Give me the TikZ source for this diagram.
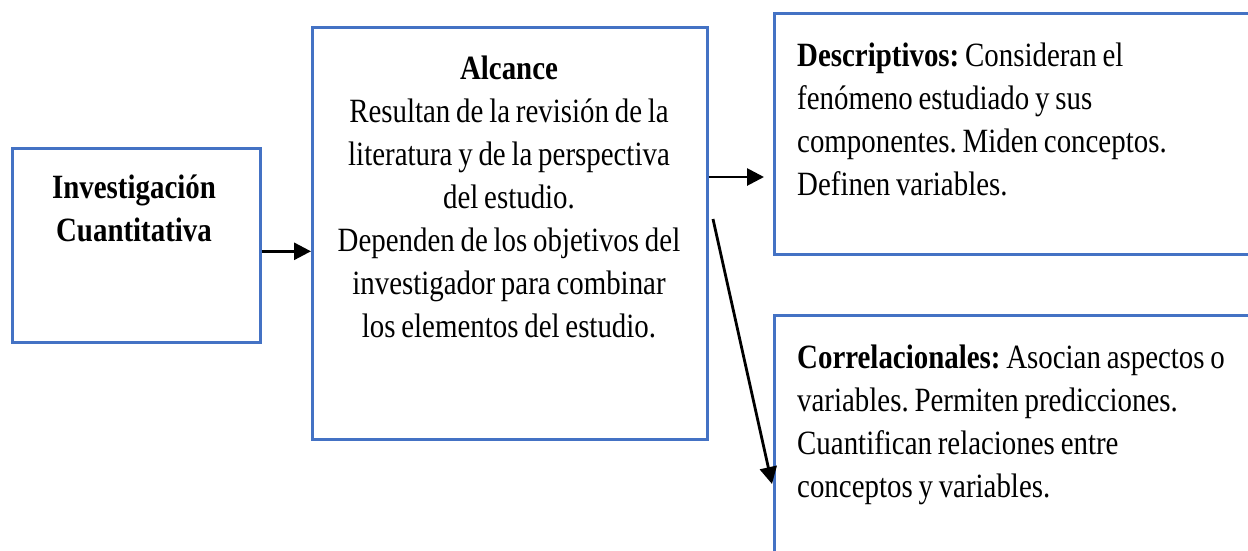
\documentclass[tikz,border=0pt]{standalone}
\usepackage{fontspec}
\setmainfont{Liberation Serif}[FakeStretch=0.85,WordSpace=0.8]
\frenchspacing
\usetikzlibrary{arrows.meta,calc}
\definecolor{boxblue}{HTML}{4472C4}
\tikzset{
  box/.style={draw=boxblue, line width=2.6pt, inner sep=0pt, anchor=north west, fill=white},
  txt/.style={inner sep=0pt, font=\fontsize{34}{43}\selectfont},
  arr/.style={line width=2.8pt, -{Triangle[length=17pt,width=17pt]}}
}
\begin{document}
\begin{tikzpicture}[x=1pt,y=-1pt]
\clip (0,0) rectangle (1248,550);
\fill[white] (0,0) rectangle (1248,550);
\node[box, minimum width=248pt, minimum height=194pt] (b1) at (11,147) {};
\node[box, minimum width=395pt, minimum height=412pt] (b2) at (311,26) {};
\node[box, minimum width=500pt, minimum height=241pt] (b3) at (773,12) {};
\node[box, minimum width=500pt, minimum height=260pt] (b4) at (773,314) {};

\node[txt, align=center, anchor=north] (t1) at (134,175) {\textbf{Investigación}\\\textbf{Cuantitativa}};
\node[txt, align=center, anchor=north] (t2) at (509,56) {\textbf{Alcance}\\Resultan de la revisión de la\\literatura y de la perspectiva\\del estudio.\\Dependen de los objetivos del\\investigador para combinar\\los elementos del estudio.};
\node[txt, align=left, anchor=north west] (t3) at (797,43) {\textbf{Descriptivos:} Consideran el\\fenómeno estudiado y sus\\componentes. Miden conceptos.\\Definen variables.};
\node[txt, align=left, anchor=north west] (t4) at (797,345) {\textbf{Correlacionales:} Asocian aspectos o\\variables. Permiten predicciones.\\Cuantifican relaciones entre\\conceptos y variables.};

\coordinate (a3s) at (713,219);
\coordinate (a3e) at (772,484);
\draw[arr] ([yshift=-6pt]b1.east) -- ([yshift=-6pt]b1.east -| b2.west);
\draw[arr] ([yshift=-151pt]b2.north east) -- ([yshift=-151pt,xshift=-9pt]b2.north east -| b3.west);
\draw[arr] (a3s) -- (a3e);
\end{tikzpicture}
\end{document}
